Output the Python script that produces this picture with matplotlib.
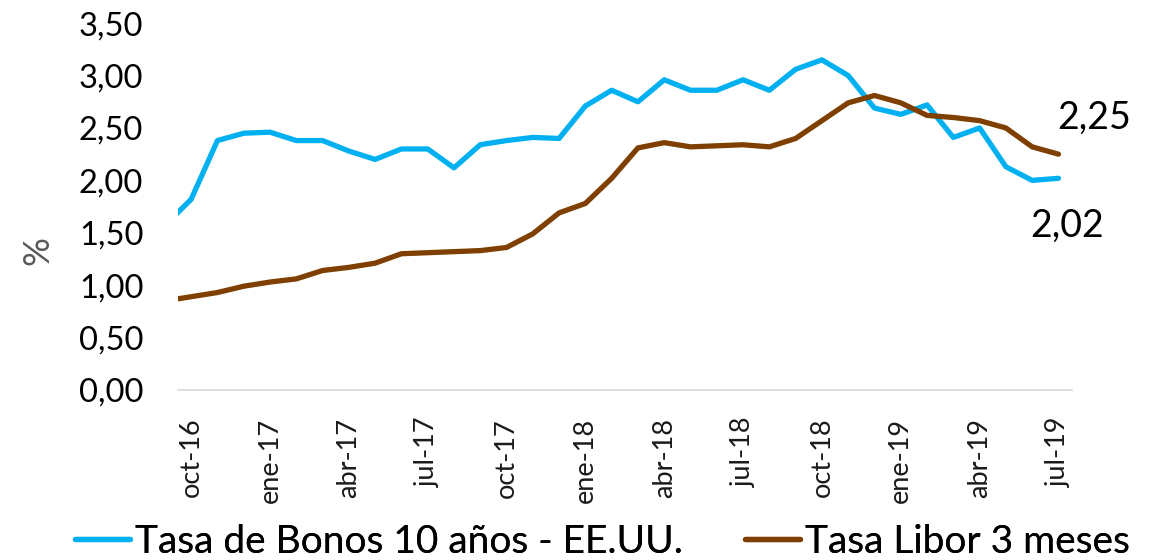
import matplotlib
matplotlib.use("Agg")
import matplotlib.pyplot as plt

# monthly data, sep-16 .. jul-19 (sep-16 only partly visible at the left edge)
months = ['sep-16', 'oct-16', 'nov-16', 'dic-16',
          'ene-17', 'feb-17', 'mar-17', 'abr-17', 'may-17', 'jun-17',
          'jul-17', 'ago-17', 'sep-17', 'oct-17', 'nov-17', 'dic-17',
          'ene-18', 'feb-18', 'mar-18', 'abr-18', 'may-18', 'jun-18',
          'jul-18', 'ago-18', 'sep-18', 'oct-18', 'nov-18', 'dic-18',
          'ene-19', 'feb-19', 'mar-19', 'abr-19', 'may-19', 'jun-19',
          'jul-19']
bonos_10y = [1.57, 1.82, 2.38, 2.45,
             2.46, 2.38, 2.38, 2.28, 2.20, 2.30,
             2.30, 2.12, 2.34, 2.38, 2.41, 2.40,
             2.71, 2.86, 2.75, 2.96, 2.86, 2.86,
             2.96, 2.86, 3.06, 3.15, 3.00, 2.69,
             2.63, 2.72, 2.41, 2.50, 2.13, 2.00,
             2.02]
libor_3m = [0.85, 0.89, 0.93, 0.99,
            1.03, 1.06, 1.14, 1.17, 1.21, 1.30,
            1.31, 1.32, 1.33, 1.36, 1.49, 1.69,
            1.78, 2.02, 2.31, 2.36, 2.32, 2.33,
            2.34, 2.32, 2.40, 2.57, 2.74, 2.81,
            2.74, 2.62, 2.60, 2.57, 2.50, 2.32,
            2.25]
tick_labels = ['oct-16', 'ene-17', 'abr-17', 'jul-17', 'oct-17', 'ene-18',
               'abr-18', 'jul-18', 'oct-18', 'ene-19', 'abr-19', 'jul-19']
y_ticks = [0, 0.5, 1.0, 1.5, 2.0, 2.5, 3.0, 3.5]

plt.rcParams['font.family'] = ['Lato', 'DejaVu Sans']

blue = '#00B0F0'
brown = '#7F3F00'

fig = plt.figure(figsize=(11.56, 5.6), dpi=100)
ax = fig.add_axes([0.154, 0.3036, 0.773, 0.655])

x = list(range(len(months)))
l1, = ax.plot(x, bonos_10y, color=blue, lw=3.8, solid_capstyle='round',
              label='Tasa de Bonos 10 años - EE.UU.')
l2, = ax.plot(x, libor_3m, color=brown, lw=3.8, solid_capstyle='round',
              label='Tasa Libor 3 meses')

ax.set_xlim(months.index('oct-16') - 0.5, len(months) - 0.5)
ax.set_ylim(0, 3.5)

ax.set_xticks([months.index(t) for t in tick_labels])
ax.set_xticklabels(tick_labels, rotation=90, fontsize=19.5, color='#1a1a1a')
ax.set_yticks(y_ticks)
ax.set_yticklabels([f'{v:.2f}'.replace('.', ',') for v in y_ticks],
                   fontsize=23.5, color='black')
ax.tick_params(axis='both', length=0)
ax.tick_params(axis='x', pad=20)
ax.tick_params(axis='y', pad=25)

for s in ['top', 'right', 'left']:
    ax.spines[s].set_visible(False)
ax.spines['bottom'].set_color('#d9d9d9')
ax.spines['bottom'].set_linewidth(1.2)

ax.set_ylabel('%', fontsize=26, color='#595959')
ax.yaxis.set_label_coords(-0.138, 0.38)

# end labels
last = len(months) - 1
ax.annotate(f'{libor_3m[-1]:.2f}'.replace('.', ','), (last, libor_3m[-1]),
            xytext=(-1, 26), textcoords='offset points', ha='left',
            va='center', fontsize=27)
ax.annotate(f'{bonos_10y[-1]:.2f}'.replace('.', ','), (last, bonos_10y[-1]),
            xytext=(-20, -34), textcoords='offset points', ha='left',
            va='center', fontsize=27)

# legend entries placed one by one at the bottom
leg_y = 1 - 542 / 560
for line, x0 in [(l1, 75 / 1156), (l2, 745 / 1156)]:
    leg = fig.legend(handles=[line], loc='center left',
                     bbox_to_anchor=(x0, leg_y), frameon=False, fontsize=28,
                     handlelength=1.41, handletextpad=0.13,
                     borderpad=0, borderaxespad=0)
    fig.add_artist(leg)

fig.savefig('out.png', dpi=100)
